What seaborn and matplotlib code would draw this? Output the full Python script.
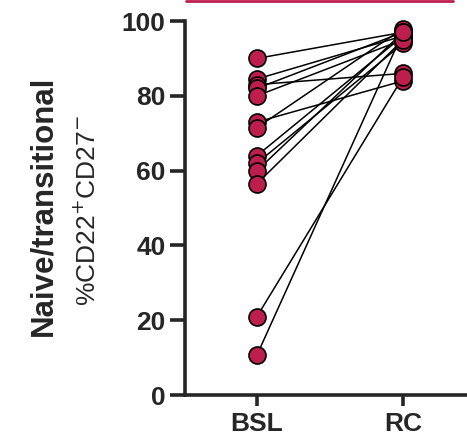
import pandas as pd
import numpy as np
import matplotlib.pyplot as plt
import seaborn as sns
from matplotlib.lines import Line2D

# paired values (one pair per subject)
timepoints = ["BSL", "RC"]
bsl_values = [90, 84.5, 83, 82, 80, 73, 71.5, 64, 62, 60, 56.5, 21, 10.7]
rc_values = [97, 96, 86, 97, 95, 84, 98, 96, 94, 97, 95, 85, 97]
yticks = [0, 20, 40, 60, 80, 100]

dot_color = "#BE1E4D"

n = len(bsl_values)
df = pd.DataFrame({
    "subject": list(range(n)) * 2,
    "time": [timepoints[0]] * n + [timepoints[1]] * n,
    "value": bsl_values + rc_values,
})
df["pos"] = df["time"].map({t: i for i, t in enumerate(timepoints)})

sns.set_style("ticks")
plt.rcParams["font.family"] = ["Liberation Sans", "DejaVu Sans"]

fig = plt.figure(figsize=(4.67, 4.38), dpi=100)
ax = fig.add_axes([0.396, 0.098, 0.604, 0.854])

#lines connecting each subject
sns.lineplot(data=df, x="pos", y="value", units="subject", estimator=None,
             color="black", linewidth=1.1, ax=ax, zorder=2, legend=False)
#the dots
sns.scatterplot(data=df, x="pos", y="value", color=dot_color, s=150,
                edgecolor="black", linewidth=1.2, ax=ax, zorder=3,
                clip_on=False, legend=False)

ax.set_xlim(-0.493, 1.438)
ax.set_ylim(0, 100)
ax.set_xticks(range(len(timepoints)))
ax.set_xticklabels(timepoints, fontsize=19, fontweight="bold")
ax.set_yticks(yticks)
ax.set_yticklabels([str(t) for t in yticks], fontsize=19, fontweight="bold")
ax.tick_params(axis="y", length=11, width=2.6, pad=3)
ax.tick_params(axis="x", length=8, width=2.6, pad=4)
ax.set_xlabel("")
ax.set_ylabel("")
for side in ["top", "right"]:
    ax.spines[side].set_visible(False)
for side in ["left", "bottom"]:
    ax.spines[side].set_linewidth(2.6)

fig.text(0.093, 0.53, "Naive/transitional", rotation=90, ha="center",
         va="center", fontsize=22.5, fontweight="bold")
fig.text(0.187, 0.518, "%CD22$^{+}$CD27$^{-}$", rotation=90, ha="center",
         va="center", fontsize=19)

# red rule at the top edge
fig.add_artist(Line2D([0.398, 0.97], [0.997, 0.997], color=dot_color,
                      linewidth=2, transform=fig.transFigure))

plt.savefig("out.png", dpi=100)
